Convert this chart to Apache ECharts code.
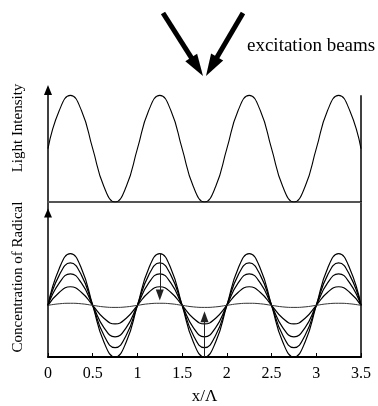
<!DOCTYPE html>
<html>
<head>
<meta charset="utf-8">
<script src="https://cdn.jsdelivr.net/npm/echarts@6/dist/echarts.min.js"></script>
<style>
  html, body { margin: 0; padding: 0; background: #fff; }
  #chart { width: 378px; height: 406px; }
</style>
</head>
<body>
<div id="chart"></div>
<script>
// x / Λ sample positions
const xPos = [0, 0.125, 0.25, 0.375, 0.5, 0.625, 0.75, 0.875,
  1, 1.125, 1.25, 1.375, 1.5, 1.625, 1.75, 1.875,
  2, 2.125, 2.25, 2.375, 2.5, 2.625, 2.75, 2.875,
  3, 3.125, 3.25, 3.375, 3.5];

// light intensity (upper panel)
const lightIntensity = [1, 1.71, 2, 1.71, 1, 0.29, 0, 0.29,
  1, 1.71, 2, 1.71, 1, 0.29, 0, 0.29,
  1, 1.71, 2, 1.71, 1, 0.29, 0, 0.29,
  1, 1.71, 2, 1.71, 1];

// radical concentration curves (lower panel), largest to smallest
const conc1 = [1, 1.71, 2, 1.71, 1, 0.29, 0, 0.29,
  1, 1.71, 2, 1.71, 1, 0.29, 0, 0.29,
  1, 1.71, 2, 1.71, 1, 0.29, 0, 0.29,
  1, 1.71, 2, 1.71, 1];
const conc2 = [1, 1.58, 1.82, 1.58, 1, 0.42, 0.18, 0.42,
  1, 1.58, 1.82, 1.58, 1, 0.42, 0.18, 0.42,
  1, 1.58, 1.82, 1.58, 1, 0.42, 0.18, 0.42,
  1, 1.58, 1.82, 1.58, 1];
const conc3 = [1, 1.43, 1.61, 1.43, 1, 0.57, 0.39, 0.57,
  1, 1.43, 1.61, 1.43, 1, 0.57, 0.39, 0.57,
  1, 1.43, 1.61, 1.43, 1, 0.57, 0.39, 0.57,
  1, 1.43, 1.61, 1.43, 1];
const conc4 = [1, 1.25, 1.36, 1.25, 1, 0.75, 0.64, 0.75,
  1, 1.25, 1.36, 1.25, 1, 0.75, 0.64, 0.75,
  1, 1.25, 1.36, 1.25, 1, 0.75, 0.64, 0.75,
  1, 1.25, 1.36, 1.25, 1];
const conc5 = [1, 1.03, 1.04, 1.03, 1, 0.97, 0.96, 0.97,
  1, 1.03, 1.04, 1.03, 1, 0.97, 0.96, 0.97,
  1, 1.03, 1.04, 1.03, 1, 0.97, 0.96, 0.97,
  1, 1.03, 1.04, 1.03, 1];

// little arrows in the lower panel: [x, from, to]
const decayArrow = [1.25, 2.0, 1.2];
const riseArrow = [1.75, 0, 0.78];

const serif = "'Liberation Serif', 'DejaVu Serif', serif";

function pairs(ys) {
  return ys.map((y, i) => [xPos[i], y]);
}

// thick beam arrow: shaft + filled head
function beamArrow(tail, tip, headLen, headHalf) {
  const dx = tip[0] - tail[0];
  const dy = tip[1] - tail[1];
  const len = Math.sqrt(dx * dx + dy * dy);
  const ux = dx / len, uy = dy / len;
  const bx = tip[0] - ux * headLen, by = tip[1] - uy * headLen;
  return [
    {
      type: "polyline",
      shape: { points: [tail, [bx + ux * 2, by + uy * 2]] },
      style: { stroke: "#000", lineWidth: 5, fill: null },
    },
    {
      type: "polygon",
      shape: {
        points: [
          tip,
          [bx - uy * headHalf, by + ux * headHalf],
          [bx + uy * headHalf, by - ux * headHalf],
        ],
      },
      style: { fill: "#000" },
    },
  ];
}

const chart = echarts.init(document.getElementById("chart"));

const curveStyle = (w) => ({ color: "#000", width: w });

const option = {
  backgroundColor: "#fff",
  animation: false,
  grid: [
    { left: 48, right: 17, top: 90, height: 112 },
    { left: 48, right: 17, top: 202, height: 157 },
  ],
  xAxis: [
    {
      gridIndex: 0, type: "value", min: 0, max: 3.5, interval: 0.5,
      axisLine: { show: true, lineStyle: { color: "#555", width: 2 } },
      axisTick: { show: false }, axisLabel: { show: false },
      splitLine: { show: false },
    },
    {
      gridIndex: 1, type: "value", min: 0, max: 3.5, interval: 0.5,
      axisLine: { show: true, lineStyle: { color: "#000", width: 2 } },
      axisTick: { show: true, inside: true, length: 4, lineStyle: { color: "#000" } },
      axisLabel: { color: "#000", fontFamily: serif, fontSize: 16, margin: 9 },
      splitLine: { show: false },
      name: "x/Λ", nameLocation: "middle", nameGap: 31,
      nameTextStyle: { color: "#000", fontFamily: serif, fontSize: 17 },
    },
  ],
  yAxis: [
    {
      gridIndex: 0, type: "value", min: 0, max: 2.1,
      axisLine: {
        show: true, lineStyle: { color: "#000", width: 1.5 },
        symbol: ["none", "triangle"], symbolSize: [8, 10],
      },
      axisTick: { show: false }, axisLabel: { show: false },
      splitLine: { show: false },
    },
    {
      gridIndex: 1, type: "value", min: 0, max: 3,
      axisLine: {
        show: true, lineStyle: { color: "#000", width: 1.5 },
        symbol: ["none", "triangle"], symbolSize: [8, 9], symbolOffset: [0, -11],
      },
      axisTick: { show: false }, axisLabel: { show: false },
      splitLine: { show: false },
    },
    {
      gridIndex: 1, type: "value", min: 0, max: 3, position: "right",
      axisLine: { show: true, lineStyle: { color: "#000", width: 1.5 } },
      axisTick: { show: false }, axisLabel: { show: false },
      splitLine: { show: false },
    },
  ],
  series: [
    {
      name: "Light Intensity", type: "line", xAxisIndex: 0, yAxisIndex: 0,
      data: pairs(lightIntensity), smooth: 0.5, showSymbol: false,
      lineStyle: curveStyle(1.1),
      markLine: {
        silent: true, symbol: "none", label: { show: false },
        lineStyle: { color: "#000", width: 1.5, type: "solid" },
        data: [[{ coord: [3.5, 0] }, { coord: [3.5, 2] }]],
      },
    },
    {
      type: "line", xAxisIndex: 1, yAxisIndex: 1, data: pairs(conc1),
      smooth: 0.5, showSymbol: false, lineStyle: curveStyle(1.2),
      markLine: {
        silent: true, symbol: ["none", "triangle"], symbolSize: [8, 11],
        label: { show: false },
        lineStyle: { color: "#222", width: 1, type: "solid" },
        data: [
          [{ coord: [decayArrow[0], decayArrow[1]] }, { coord: [decayArrow[0], decayArrow[2]] }],
          [{ coord: [riseArrow[0], riseArrow[1]] }, { coord: [riseArrow[0], riseArrow[2]] }],
        ],
      },
    },
    { type: "line", xAxisIndex: 1, yAxisIndex: 1, data: pairs(conc2), smooth: 0.5, showSymbol: false, lineStyle: curveStyle(1.2) },
    { type: "line", xAxisIndex: 1, yAxisIndex: 1, data: pairs(conc3), smooth: 0.5, showSymbol: false, lineStyle: curveStyle(1.2) },
    { type: "line", xAxisIndex: 1, yAxisIndex: 1, data: pairs(conc4), smooth: 0.5, showSymbol: false, lineStyle: curveStyle(1.2) },
    { type: "line", xAxisIndex: 1, yAxisIndex: 1, data: pairs(conc5), smooth: 0.5, showSymbol: false, lineStyle: { color: "#333", width: 1 } },
  ],
  graphic: [
    ...beamArrow([163, 13], [203, 76], 22, 7),
    ...beamArrow([243, 13], [206, 76], 22, 7),
    {
      type: "text", x: 247, y: 46,
      style: { text: "excitation beams", font: "19px " + serif, fill: "#000", textVerticalAlign: "middle" },
    },
    {
      type: "text", x: 18, y: 128, rotation: Math.PI / 2,
      style: { text: "Light Intensity", font: "15px " + serif, fill: "#000", textAlign: "center", textVerticalAlign: "middle" },
    },
    {
      type: "text", x: 18, y: 277, rotation: Math.PI / 2,
      style: { text: "Concentration of Radical", font: "15px " + serif, fill: "#000", textAlign: "center", textVerticalAlign: "middle" },
    },
  ],
};

chart.setOption(option);
window.addEventListener("resize", () => chart.resize());
</script>
</body>
</html>
